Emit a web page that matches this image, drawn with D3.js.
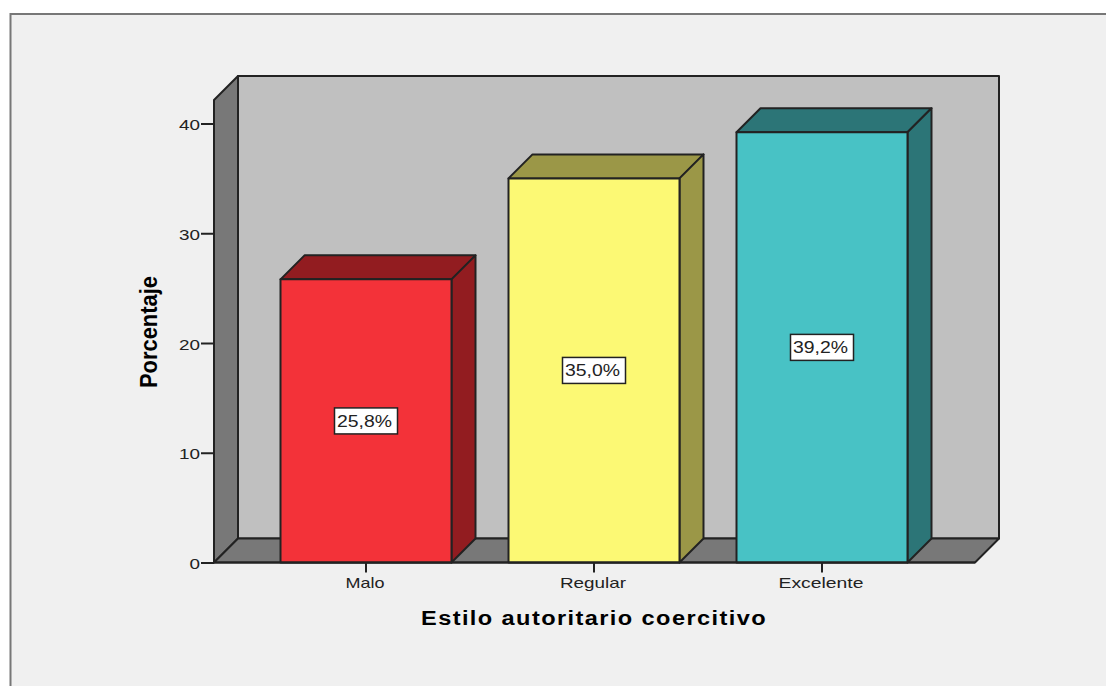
<!DOCTYPE html>
<html><head><meta charset="utf-8">
<script src="https://cdn.jsdelivr.net/npm/d3@7"></script>
<style>html,body{margin:0;padding:0;background:#fff;overflow:hidden}svg{display:block}text{font-family:"Liberation Sans",Arial,sans-serif}</style>
</head><body><script>
const categories = ["Malo","Regular","Excelente"];
const percentages = [25.8,35.0,39.2];
const percentLabels = ["25,8%","35,0%","39,2%"];
const yTicks = [0,10,20,30,40];
const frontColors = ["#f33239","#fcf974","#48c2c5"];
const topColors = ["#921c20","#9b9747","#2c7577"];
const xLabelWidths = [39,66,85];
const W=1106,H=686;
const depth=24, left=214, right=975, base=562.5, wallTop=100;
const ink="#222";
const svg=d3.select("body").append("svg").attr("width",W).attr("height",H);
const y=d3.scaleLinear().domain([0,40]).range([base,123.5]);
const x=d3.scaleBand().domain(categories).range([252,936]).paddingInner(57/228).paddingOuter(28.5/228);
const poly=(pts,fill,sw=2)=>svg.append("path").attr("d","M"+pts.map(p=>p.join(",")).join("L")+"Z")
  .attr("fill",fill).attr("stroke",ink).attr("stroke-width",sw).attr("stroke-linejoin","round");

// panel
svg.append("rect").attr("x",10.5).attr("y",14).attr("width",W+20).attr("height",H+20)
  .attr("fill","#f0f0f0").attr("stroke","#777").attr("stroke-width",2);

// walls
poly([[left+depth,wallTop-depth],[right+depth,wallTop-depth],[right+depth,base-depth],[left+depth,base-depth]],"#c0c0c0");
poly([[left,wallTop],[left+depth,wallTop-depth],[left+depth,base-depth],[left,base]],"#787878");
poly([[left,base],[left+depth,base-depth],[right+depth,base-depth],[right,base]],"#787878");

// y axis
const yAxis=svg.append("g").attr("transform",`translate(${left},0)`)
  .call(d3.axisLeft(y).tickValues(yTicks).tickSize(13).tickPadding(1));
yAxis.select(".domain").remove();
yAxis.selectAll("line").attr("stroke",ink).attr("stroke-width",2);
yAxis.selectAll("text").attr("font-size",15).attr("fill","#222").attr("dy","0.4em")
  .attr("textLength",d=>d===0?10.5:21).attr("lengthAdjust","spacingAndGlyphs");

// x axis
const xAxis=svg.append("g").attr("transform",`translate(-1,${base})`)
  .call(d3.axisBottom(x).tickSize(10).tickPadding(5));
xAxis.select(".domain").remove();
xAxis.selectAll("line").attr("stroke",ink).attr("stroke-width",2).attr("transform","translate(1,0)");
xAxis.selectAll("text").attr("font-size",15).attr("fill","#222")
  .attr("textLength",(d,i)=>xLabelWidths[i]).attr("lengthAdjust","spacingAndGlyphs");

// bars
categories.forEach((c,i)=>{
  const x0=x(c),x1=x0+x.bandwidth(),yt=y(percentages[i]);
  poly([[x0,yt],[x0+depth,yt-depth],[x1+depth,yt-depth],[x1,yt]],topColors[i]);
  poly([[x1,yt],[x1+depth,yt-depth],[x1+depth,base-depth],[x1,base]],topColors[i]);
  poly([[x0,yt],[x1,yt],[x1,base],[x0,base]],frontColors[i]);
});
svg.append("line").attr("x1",left).attr("x2",right).attr("y1",base).attr("y2",base).attr("stroke",ink).attr("stroke-width",2);

// value labels
categories.forEach((c,i)=>{
  const cx=x(c)+x.bandwidth()/2, cy=y(percentages[i]/2);
  svg.append("rect").attr("x",cx-31.5).attr("y",cy-13).attr("width",63).attr("height",26)
    .attr("fill","#fff").attr("stroke",ink).attr("stroke-width",1.5);
  svg.append("text").attr("x",cx-1.5).attr("y",cy+6).attr("text-anchor","middle")
    .attr("font-size",16).attr("fill","#222").attr("textLength",55).attr("lengthAdjust","spacingAndGlyphs")
    .text(percentLabels[i]);
});

// axis titles
svg.append("text").attr("x",594).attr("y",625).attr("text-anchor","middle")
  .attr("font-size",20).attr("font-weight","bold").attr("fill","#000").attr("letter-spacing","1.2px")
  .attr("textLength",346).attr("lengthAdjust","spacingAndGlyphs").text("Estilo autoritario coercitivo");
svg.append("text").attr("transform","translate(157,332) rotate(-90)").attr("text-anchor","middle")
  .attr("font-size",23).attr("font-weight","bold").attr("fill","#000")
  .attr("textLength",112).attr("lengthAdjust","spacingAndGlyphs").text("Porcentaje");
</script></body></html>
